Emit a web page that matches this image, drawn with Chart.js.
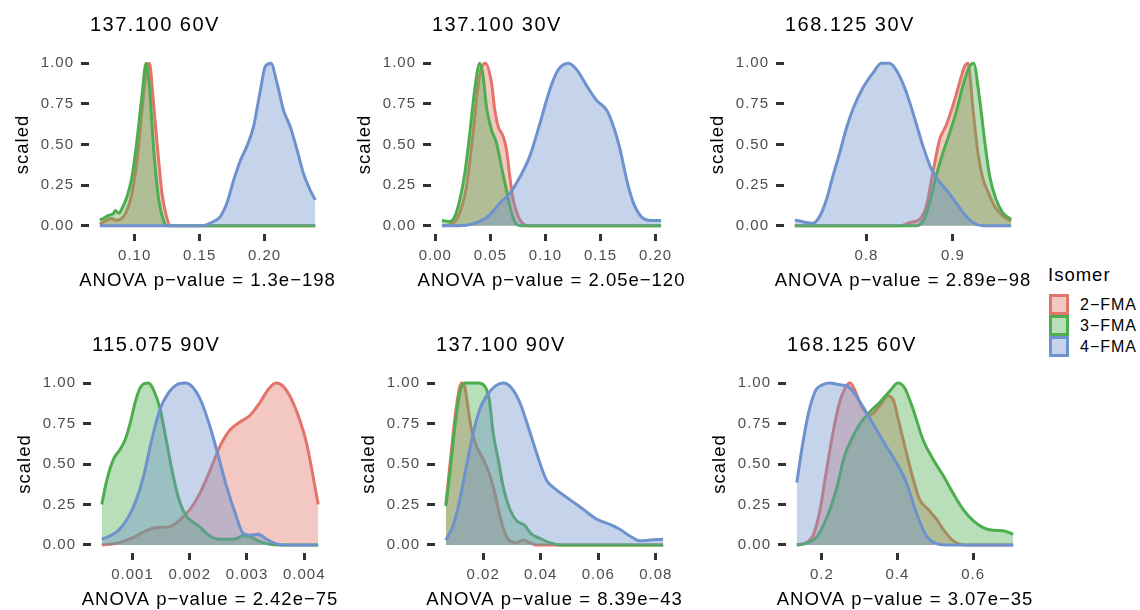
<!DOCTYPE html>
<html>
<head>
<meta charset="utf-8">
<script src="https://cdn.jsdelivr.net/npm/chart.js@4.4.0/dist/chart.umd.min.js"></script>
<style>
  body { margin: 0; background: #fff; width: 1140px; height: 610px; overflow: hidden; position: relative;
         font-family: "Liberation Sans", Arial, Helvetica, sans-serif; }
  canvas { position: absolute; }
  #legend { position: absolute; left: 1049px; top: 264px; letter-spacing: 1px; color: #000; }
  #legend .title { font-size: 18.5px; line-height: 22px; margin: 0 0 8px -1px; }
  #legend .key { display: flex; align-items: center; height: 21px; font-size: 16px; }
  #legend .swatch { box-sizing: border-box; width: 20px; height: 21px; border: 3px solid; margin-right: 11px; }
</style>
</head>
<body>
<div id="legend"><div class="title">Isomer</div></div>
<script>
// Series / labels
const isomers = ['2−FMA', '3−FMA', '4−FMA'];
const titles = ['137.100 60V', '137.100 30V', '168.125 30V', '115.075 90V', '137.100 90V', '168.125 60V'];
const pValues = ['1.3e−198', '2.05e−120', '2.89e−98', '2.42e−75', '8.39e−43', '3.07e−35'];

const yTicks = [0, 0.25, 0.5, 0.75, 1];
const yTickLabels = ['0.00', '0.25', '0.50', '0.75', '1.00'];

const p1Ticks = [0.10, 0.15, 0.20];
const p1Labels = ['0.10', '0.15', '0.20'];
const p2Ticks = [0, 0.05, 0.10, 0.15, 0.20];
const p2Labels = ['0.00', '0.05', '0.10', '0.15', '0.20'];
const p3Ticks = [0.8, 0.9];
const p3Labels = ['0.8', '0.9'];
const p4Ticks = [0.001, 0.002, 0.003, 0.004];
const p4Labels = ['0.001', '0.002', '0.003', '0.004'];
const p5Ticks = [0.02, 0.04, 0.06, 0.08];
const p5Labels = ['0.02', '0.04', '0.06', '0.08'];
const p6Ticks = [0.2, 0.4, 0.6];
const p6Labels = ['0.2', '0.4', '0.6'];

// scaled densities, [x, y] pairs
const p1_2FMA = [[0.0731,0.01],[0.0775,0.03],[0.082,0.045],[0.086,0.035],[0.089,0.04],[0.0967,0.16],[0.1018,0.40],[0.1056,0.71],[0.1095,0.98],[0.1113,1.0],[0.1141,0.79],[0.1172,0.51],[0.121,0.2],[0.1244,0.06],[0.1274,0],[0.239,0]];
const p1_3FMA = [[0.0731,0.037],[0.0762,0.047],[0.0787,0.06],[0.0813,0.067],[0.0838,0.078],[0.0851,0.094],[0.0877,0.078],[0.0903,0.108],[0.0941,0.18],[0.0979,0.30],[0.1018,0.53],[0.1056,0.80],[0.1087,1.0],[0.1113,0.86],[0.1146,0.47],[0.1185,0.16],[0.1223,0.03],[0.1249,0],[0.239,0]];
const p1_4FMA = [[0.0731,0],[0.1505,0],[0.1608,0.027],[0.1659,0.057],[0.171,0.14],[0.1762,0.28],[0.1813,0.40],[0.1864,0.49],[0.1915,0.61],[0.1967,0.83],[0.2005,0.98],[0.2049,1.0],[0.2095,0.88],[0.2146,0.71],[0.2197,0.61],[0.2249,0.47],[0.23,0.32],[0.2351,0.22],[0.239,0.16]];

const p2_2FMA = [[0.006,0],[0.0161,0.016],[0.0222,0.08],[0.0282,0.24],[0.0343,0.57],[0.0388,0.86],[0.0419,0.97],[0.0455,1.0],[0.051,0.88],[0.054,0.71],[0.0571,0.61],[0.0616,0.55],[0.0646,0.47],[0.0677,0.30],[0.0707,0.16],[0.0753,0.057],[0.0798,0.012],[0.0844,0],[0.205,0]];
const p2_3FMA = [[0.006,0.033],[0.0131,0.027],[0.0176,0.057],[0.0222,0.16],[0.0267,0.32],[0.0313,0.57],[0.0358,0.84],[0.0404,1.0],[0.0434,0.92],[0.0464,0.73],[0.051,0.59],[0.0555,0.51],[0.0601,0.36],[0.0646,0.22],[0.0692,0.08],[0.0737,0.01],[0.0783,0],[0.205,0]];
const p2_4FMA = [[0.006,0],[0.0282,0.004],[0.0404,0.027],[0.0495,0.068],[0.0586,0.14],[0.0677,0.2],[0.0768,0.30],[0.0859,0.43],[0.095,0.63],[0.1041,0.84],[0.1117,0.96],[0.1208,1.0],[0.1284,0.96],[0.1375,0.86],[0.1466,0.77],[0.1557,0.71],[0.1618,0.61],[0.1678,0.47],[0.1739,0.28],[0.18,0.14],[0.1876,0.053],[0.1951,0.033],[0.205,0.033]];

const p3_2FMA = [[0.7173,0],[0.8385,0],[0.85,0.02],[0.8615,0.04],[0.8692,0.12],[0.8769,0.33],[0.8846,0.53],[0.8923,0.62],[0.9,0.74],[0.9077,0.88],[0.9135,0.98],[0.9173,1.0],[0.9231,0.72],[0.9288,0.45],[0.9346,0.29],[0.9404,0.21],[0.9481,0.12],[0.9577,0.06],[0.9673,0.03]];
const p3_3FMA = [[0.7173,0],[0.8577,0],[0.8654,0.03],[0.8731,0.14],[0.8808,0.31],[0.8885,0.45],[0.8962,0.57],[0.9038,0.70],[0.9115,0.86],[0.9192,0.98],[0.9238,1.0],[0.9308,0.78],[0.9365,0.53],[0.9423,0.31],[0.95,0.16],[0.9577,0.08],[0.9673,0.04]];
const p3_4FMA = [[0.7173,0.037],[0.7269,0.025],[0.7385,0.016],[0.7462,0.06],[0.7538,0.16],[0.7615,0.31],[0.7692,0.45],[0.7769,0.6],[0.7846,0.72],[0.7962,0.85],[0.8077,0.94],[0.8173,1.0],[0.8269,1.0],[0.8365,0.94],[0.8462,0.82],[0.8558,0.66],[0.8654,0.49],[0.875,0.35],[0.8846,0.27],[0.8942,0.21],[0.9038,0.14],[0.9135,0.07],[0.9231,0.02],[0.9346,0],[0.9673,0]];

const p4_2FMA = [[0.000465,0],[0.000727,0.01],[0.001017,0.047],[0.00125,0.09],[0.001424,0.107],[0.001657,0.113],[0.001831,0.155],[0.002006,0.22],[0.00218,0.32],[0.002355,0.46],[0.002529,0.61],[0.002703,0.71],[0.002878,0.76],[0.003052,0.80],[0.003227,0.88],[0.003372,0.96],[0.003506,1.0],[0.003634,0.98],[0.00375,0.92],[0.003924,0.77],[0.00404,0.63],[0.004157,0.42],[0.004244,0.25]];
const p4_3FMA = [[0.000465,0.25],[0.000552,0.40],[0.000669,0.53],[0.000785,0.59],[0.000872,0.65],[0.000959,0.75],[0.001047,0.88],[0.001134,0.97],[0.001279,1.0],[0.001366,0.96],[0.001483,0.84],[0.001599,0.63],[0.001715,0.42],[0.001831,0.26],[0.001948,0.175],[0.002064,0.14],[0.00218,0.11],[0.002297,0.07],[0.002442,0.04],[0.002587,0.035],[0.002762,0.035],[0.002936,0.056],[0.003052,0.05],[0.003227,0.02],[0.003401,0.004],[0.003576,0],[0.004244,0]];
const p4_4FMA = [[0.000465,0.035],[0.00061,0.056],[0.000756,0.09],[0.000901,0.155],[0.001047,0.26],[0.001192,0.42],[0.001337,0.65],[0.001483,0.84],[0.001628,0.94],[0.001773,0.99],[0.001919,1.0],[0.002064,0.97],[0.002209,0.88],[0.002355,0.73],[0.0025,0.55],[0.002645,0.36],[0.002791,0.2],[0.002936,0.07],[0.003052,0.06],[0.003198,0.066],[0.003343,0.035],[0.003517,0.006],[0.003692,0],[0.004244,0]];

const p5_2FMA = [[0.00703,0.25],[0.009,0.59],[0.01073,0.86],[0.01247,1.0],[0.01363,0.975],[0.01479,0.84],[0.01595,0.71],[0.01768,0.61],[0.02,0.53],[0.02232,0.43],[0.02405,0.32],[0.02579,0.18],[0.02753,0.076],[0.02927,0.025],[0.03158,0.014],[0.0339,0.03],[0.03622,0.014],[0.03853,0],[0.08255,0]];
const p5_3FMA = [[0.00703,0.24],[0.00842,0.445],[0.01015,0.73],[0.01189,0.94],[0.01363,1.0],[0.01595,1.0],[0.01826,1.0],[0.02058,0.98],[0.02209,0.90],[0.02348,0.69],[0.02521,0.53],[0.02695,0.36],[0.02927,0.22],[0.03158,0.15],[0.03448,0.12],[0.0368,0.066],[0.03969,0.04],[0.04317,0.014],[0.04664,0],[0.08255,0]];
const p5_4FMA = [[0.00703,0.03],[0.00957,0.12],[0.01189,0.28],[0.01421,0.49],[0.01652,0.69],[0.01884,0.84],[0.02116,0.92],[0.02405,0.98],[0.02695,1.0],[0.02985,0.97],[0.03274,0.88],[0.03564,0.73],[0.03853,0.57],[0.04201,0.40],[0.04548,0.34],[0.05012,0.28],[0.05475,0.22],[0.05938,0.16],[0.06402,0.127],[0.06749,0.097],[0.07097,0.055],[0.07444,0.025],[0.07792,0.03],[0.08255,0.035]];

const p6_2FMA = [[0.1338,0],[0.1585,0.014],[0.1762,0.056],[0.1938,0.2],[0.2115,0.45],[0.2291,0.69],[0.2468,0.88],[0.2645,0.98],[0.2751,1.0],[0.2865,0.96],[0.3042,0.86],[0.3263,0.80],[0.3528,0.86],[0.3748,0.92],[0.3881,0.90],[0.4057,0.74],[0.4234,0.57],[0.4411,0.41],[0.4587,0.28],[0.4808,0.22],[0.5029,0.16],[0.5205,0.097],[0.5426,0.035],[0.5647,0.004],[0.5823,0],[0.706,0]];
const p6_3FMA = [[0.1338,0],[0.1585,0.01],[0.185,0.045],[0.2115,0.16],[0.238,0.34],[0.26,0.55],[0.2821,0.67],[0.3042,0.76],[0.3263,0.82],[0.3528,0.88],[0.3793,0.95],[0.4013,1.0],[0.419,0.97],[0.4411,0.84],[0.4675,0.65],[0.494,0.53],[0.5205,0.43],[0.547,0.32],[0.5735,0.22],[0.6,0.15],[0.6265,0.107],[0.653,0.09],[0.6795,0.087],[0.706,0.066]];
const p6_4FMA = [[0.1338,0.386],[0.1497,0.63],[0.1673,0.84],[0.185,0.96],[0.2026,0.99],[0.2203,1.0],[0.2468,0.99],[0.2689,0.98],[0.2909,0.92],[0.3174,0.82],[0.3439,0.715],[0.3704,0.61],[0.3969,0.51],[0.4234,0.386],[0.4499,0.2],[0.4764,0.056],[0.5029,0.008],[0.5294,0],[0.706,0]];

// Styling
const lineColors = ['#E2756A', '#4DAE4F', '#6D92CE'];
const fillColors = ['rgba(226,117,106,0.4)', 'rgba(77,174,79,0.4)', 'rgba(109,146,206,0.4)'];
const FONT = '"Liberation Sans", Arial, Helvetica, sans-serif';
const AXIS_W = 90, PAD_T = 55, PAD_R = 22, XAXIS_H = 62;

// plot panel boxes on the page: left, top, right, bottom
const boxes = [
    [89, 55, 326, 234], [431, 55, 672, 234], [784, 55, 1022, 234],
    [91, 375, 329, 553], [435, 375, 674, 553], [786, 375, 1024, 553]
];

const panels = [
    { data: [p1_2FMA, p1_3FMA, p1_4FMA], ticks: p1Ticks, labels: p1Labels },
    { data: [p2_2FMA, p2_3FMA, p2_4FMA], ticks: p2Ticks, labels: p2Labels },
    { data: [p3_2FMA, p3_3FMA, p3_4FMA], ticks: p3Ticks, labels: p3Labels },
    { data: [p4_2FMA, p4_3FMA, p4_4FMA], ticks: p4Ticks, labels: p4Labels },
    { data: [p5_2FMA, p5_3FMA, p5_4FMA], ticks: p5Ticks, labels: p5Labels },
    { data: [p6_2FMA, p6_3FMA, p6_4FMA], ticks: p6Ticks, labels: p6Labels }
];

Chart.defaults.font.family = FONT;

// wider tracking like the original text; Chart.js passes the axis width as
// maxWidth for axis titles, which squeezes them, so drop that argument
const letterSpace = {
    id: 'letterSpace',
    beforeDraw(chart) {
        const ctx = chart.ctx;
        ctx.letterSpacing = '1px';
        if (ctx._spaced) return;
        const fill = ctx.fillText;
        ctx.fillText = function(text, x, y) {
            return fill.call(this, text, x, y);
        };
        ctx._spaced = true;
    }
};

// title sits on the left edge of the plot panel
const panelTitle = {
    id: 'panelTitle',
    afterDraw(chart, args, opts) {
        const ctx = chart.ctx;
        ctx.save();
        ctx.font = '20px ' + FONT;
        ctx.letterSpacing = '1.5px';
        ctx.fillStyle = '#000';
        ctx.textAlign = 'left';
        ctx.textBaseline = 'middle';
        ctx.fillText(opts.text, chart.chartArea.left + 1, chart.chartArea.top - 29.4);
        ctx.restore();
    }
};

panels.forEach(function(p, i) {
    const [L, T, R, B] = boxes[i];
    const canvas = document.createElement('canvas');
    canvas.width = (R - L) + AXIS_W + PAD_R;
    canvas.height = (B - T) + PAD_T + XAXIS_H;
    canvas.style.left = (L - AXIS_W) + 'px';
    canvas.style.top = (T - PAD_T) + 'px';
    document.body.appendChild(canvas);

    // ggplot style 5% expansion around the data range
    const xs = p.data.flat().map(d => d[0]);
    const lo = Math.min(...xs), hi = Math.max(...xs);
    const pad = (hi - lo) * 0.05;

    new Chart(canvas, {
        type: 'line',
        data: {
            datasets: p.data.map((d, k) => ({
                label: isomers[k],
                data: d,
                order: 3 - k,
                borderColor: lineColors[k],
                backgroundColor: fillColors[k],
                borderWidth: 3,
                fill: 'origin',
                pointRadius: 0,
                cubicInterpolationMode: 'monotone'
            }))
        },
        options: {
            responsive: false,
            animation: false,
            devicePixelRatio: 1,
            layout: { padding: { top: PAD_T, right: PAD_R, left: 0, bottom: 0 } },
            plugins: {
                legend: { display: false },
                tooltip: { enabled: false },
                panelTitle: { text: titles[i] }
            },
            scales: {
                x: {
                    type: 'linear',
                    min: lo - pad,
                    max: hi + pad,
                    afterBuildTicks: s => { s.ticks = p.ticks.map(v => ({ value: v })); },
                    afterFit: s => { s.height = XAXIS_H; },
                    border: { display: false },
                    grid: { drawOnChartArea: false, tickLength: 7, tickWidth: 3, tickColor: '#333333' },
                    ticks: {
                        autoSkip: false, maxRotation: 0, padding: 6, color: '#4D4D4D',
                        font: { size: 15 },
                        callback: (v, idx) => p.labels[idx]
                    },
                    title: {
                        display: true,
                        text: 'ANOVA p−value = ' + pValues[i],
                        color: '#000',
                        font: { size: 18.5 },
                        padding: { top: 0, bottom: 4.4 }
                    }
                },
                y: {
                    min: -0.05,
                    max: 1.05,
                    afterBuildTicks: s => { s.ticks = yTicks.map(v => ({ value: v })); },
                    afterFit: s => { s.width = AXIS_W; },
                    border: { display: false },
                    grid: { drawOnChartArea: false, tickLength: 8, tickWidth: 3, tickColor: '#333333' },
                    ticks: {
                        padding: 7, color: '#4D4D4D',
                        font: { size: 15 },
                        callback: (v, idx) => yTickLabels[idx]
                    },
                    title: {
                        display: true,
                        text: 'scaled',
                        color: '#000',
                        font: { size: 18.5 },
                        padding: { top: 13, bottom: 0 }
                    }
                }
            }
        },
        plugins: [letterSpace, panelTitle]
    });
});

// legend
const legend = document.getElementById('legend');
isomers.forEach(function(name, k) {
    const row = document.createElement('div');
    row.className = 'key';
    const sw = document.createElement('span');
    sw.className = 'swatch';
    sw.style.borderColor = lineColors[k];
    sw.style.background = fillColors[k];
    const lab = document.createElement('span');
    lab.textContent = name;
    row.append(sw, lab);
    legend.appendChild(row);
});
</script>
</body>
</html>
